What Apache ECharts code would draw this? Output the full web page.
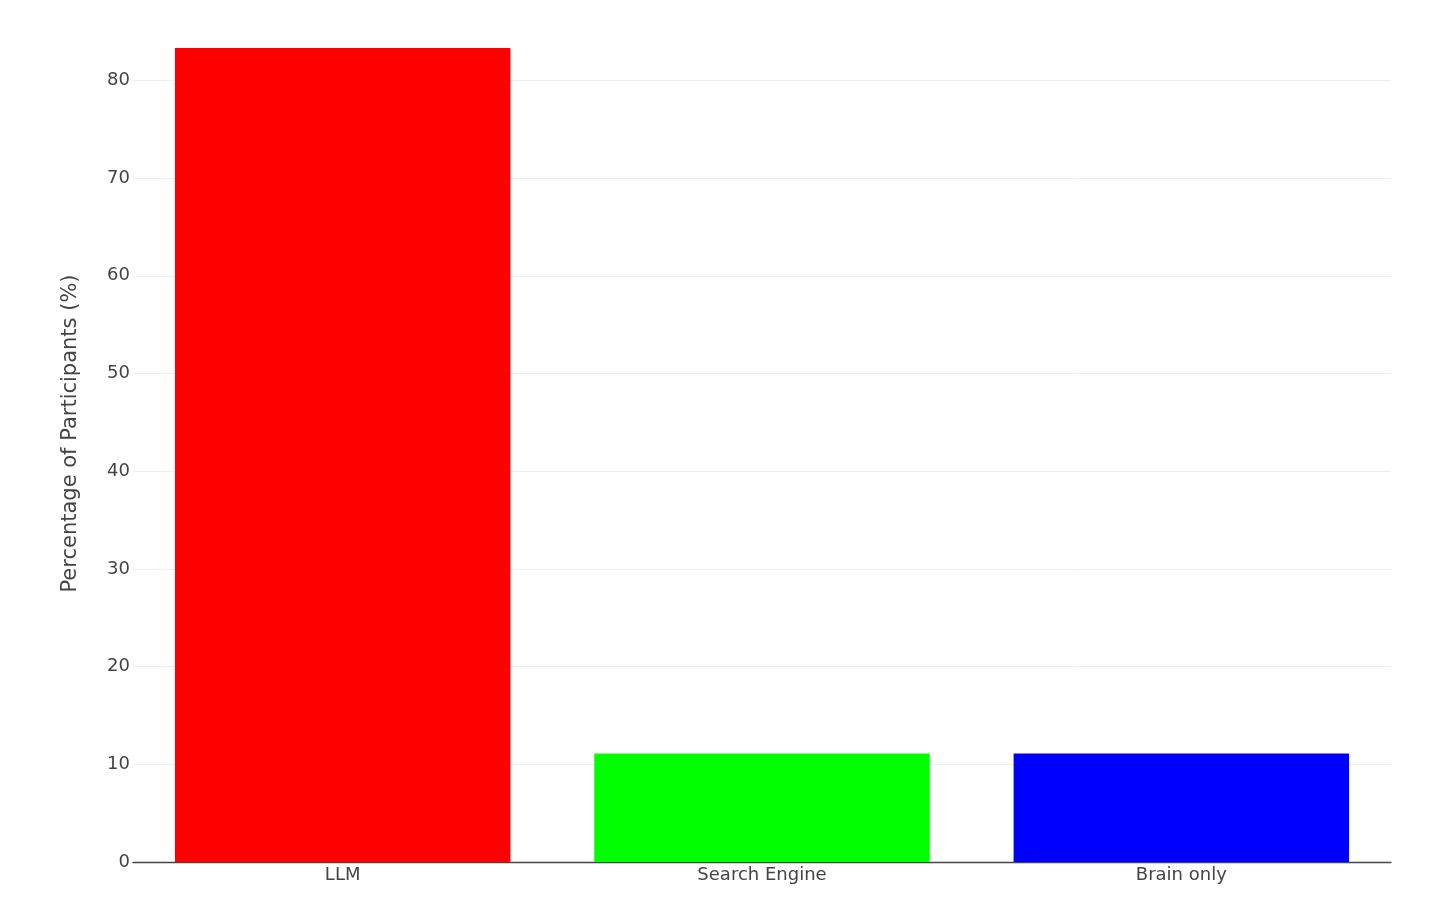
<!DOCTYPE html>
<html>
<head>
<meta charset="utf-8">
<script src="https://cdn.jsdelivr.net/npm/echarts@6/dist/echarts.min.js"></script>
<style>
html,body{margin:0;padding:0;background:#fff;}
#chart{width:1456px;height:901px;}
</style>
</head>
<body>
<div id="chart"></div>
<script>
const categories = ["LLM", "Search Engine", "Brain only"];
const values = [83.33, 11.11, 11.11];
const barColors = ["#ff0000", "#00ff00", "#0000ff"];
const yTicks = [0, 10, 20, 30, 40, 50, 60, 70, 80];

const chart = echarts.init(document.getElementById('chart'), null, {renderer: 'canvas'});
const font = '"DejaVu Sans", Verdana, sans-serif';
chart.setOption({
  animation: false,
  backgroundColor: '#ffffff',
  grid: {left: 133, right: 65, top: 5, bottom: 39, containLabel: false},
  xAxis: {
    type: 'category',
    data: categories,
    axisLine: {show: true, lineStyle: {color: '#444', width: 1.3}},
    axisTick: {show: false},
    axisLabel: {color: '#444', fontSize: 18, fontFamily: font, margin: 4}
  },
  yAxis: {
    type: 'value',
    min: 0,
    max: 87.72,
    interval: 10,
    name: 'Percentage of Participants (%)',
    nameLocation: 'middle',
    nameGap: 52,
    nameTextStyle: {color: '#444', fontSize: 21, fontFamily: font},
    axisLine: {show: false},
    axisTick: {show: false},
    axisLabel: {
      color: '#444', fontSize: 18, fontFamily: font, margin: 3,
      showMaxLabel: false,
      formatter: v => (yTicks.indexOf(v) >= 0 ? String(v) : '')
    },
    splitLine: {show: true, showMaxLine: false, lineStyle: {color: '#eeeeee', width: 1}}
  },
  series: [{
    type: 'bar',
    data: values.map((v, i) => ({value: v, itemStyle: {color: barColors[i]}})),
    barCategoryGap: '20%'
  }]
});
</script>
</body>
</html>
